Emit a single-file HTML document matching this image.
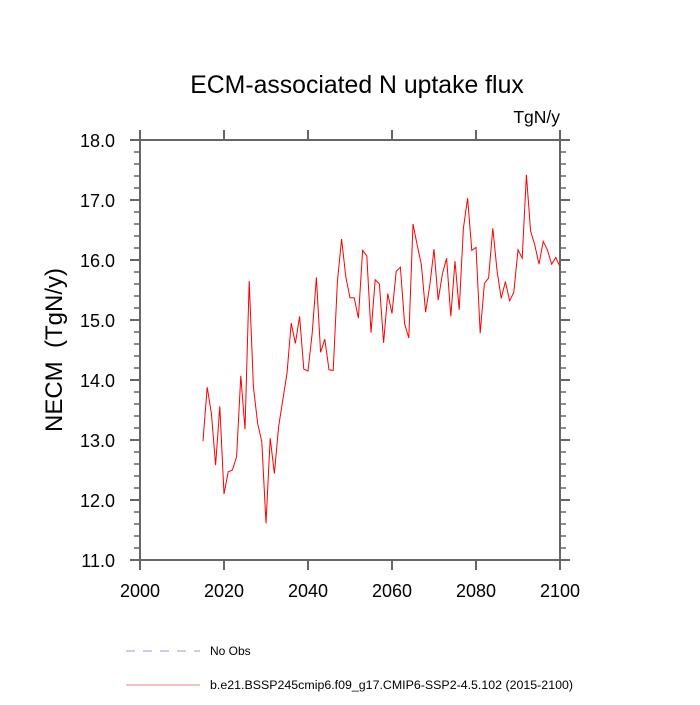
<!DOCTYPE html>
<html><head><meta charset="utf-8"><style>
html,body{margin:0;padding:0;background:#fff;}
svg text{font-family:"Liberation Sans",sans-serif;}
</style></head><body>
<svg id="chart" width="700" height="700" xmlns="http://www.w3.org/2000/svg">
<text x="357" y="93" font-size="24.8" text-anchor="middle" fill="#000">ECM-associated N uptake flux</text>
<text x="560" y="123" font-size="17.5" text-anchor="end" fill="#000">TgN/y</text>
<text transform="translate(62,350) rotate(-90)" font-size="24" text-anchor="middle" fill="#000" style="white-space:pre">NECM  (TgN/y)</text>
<g id="axes"></g>
<g id="series"></g>
<g>
<line x1="126" y1="651" x2="200" y2="651" stroke="#9999cc" stroke-width="1" stroke-dasharray="9,8"/>
<text x="210" y="655" font-size="12" fill="#000">No Obs</text>
<line x1="126" y1="685" x2="200" y2="685" stroke="#f08080" stroke-width="1"/>
<text x="210" y="689" font-size="12.4" fill="#000">b.e21.BSSP245cmip6.f09_g17.CMIP6-SSP2-4.5.102 (2015-2100)</text>
</g>
</svg>
<script>
const startYear = 2015;
const values = [12.98,13.88,13.44,12.58,13.56,12.10,12.47,12.50,12.72,14.07,13.18,15.65,13.89,13.28,12.97,11.61,13.03,12.44,13.22,13.67,14.11,14.95,14.61,15.06,14.18,14.15,14.78,15.71,14.46,14.68,14.17,14.16,15.64,16.35,15.72,15.37,15.37,15.03,16.16,16.07,14.79,15.67,15.60,14.62,15.44,15.11,15.81,15.88,14.94,14.70,16.60,16.25,15.92,15.13,15.58,16.18,15.33,15.77,16.03,15.06,15.98,15.17,16.53,17.03,16.16,16.21,14.78,15.61,15.70,16.53,15.83,15.36,15.64,15.32,15.46,16.17,16.03,17.42,16.48,16.25,15.93,16.31,16.17,15.93,16.04,15.89];
const xTicks = [2000,2020,2040,2060,2080,2100];
const yTicks = [11.0,12.0,13.0,14.0,15.0,16.0,17.0,18.0];
const L=140,R=560,T=140,B=560;
function xs(v){return L+(v-2000)/100*(R-L);}
function ys(v){return B-(v-11)/7*(B-T);}
const NS="http://www.w3.org/2000/svg";
const ax=document.getElementById('axes');
function mk(tag,attrs,parent){const e=document.createElementNS(NS,tag);for(const k in attrs)e.setAttribute(k,attrs[k]);parent.appendChild(e);return e;}
const col="#666";
const frame=mk('rect',{x:L,y:T,width:R-L,height:B-T,fill:'none',stroke:col,'stroke-width':2},ax);


xTicks.forEach(t=>{
  const x=xs(t);
  const a=mk('line',{x1:x,y1:B,x2:x,y2:B+10,stroke:col,'stroke-width':2},ax);
  
  
  const b=mk('line',{x1:x,y1:T,x2:x,y2:T-10,stroke:col,'stroke-width':2},ax);
  
  
  const tx=mk('text',{x:x,y:597,'font-size':18,'text-anchor':'middle',fill:'#000'},ax);
  tx.textContent=t;
  
  
});
for(let v=11;v<=18.001;v+=0.2){
  const y=ys(v);
  const major=Math.abs(v-Math.round(v))<0.01;
  const len=major?10:6;
  const a=mk('line',{x1:L,y1:y,x2:L-len,y2:y,stroke:col,'stroke-width':major?2:1.5},ax);
  
  
  const b=mk('line',{x1:R,y1:y,x2:R+len,y2:y,stroke:col,'stroke-width':major?2:1.5},ax);
  
  
}
yTicks.forEach(t=>{
  const tx=mk('text',{x:115,y:ys(t)+7,'font-size':18,'text-anchor':'end',fill:'#000'},ax);
  tx.textContent=t.toFixed(1);
  
  
});
const pts=values.map((v,i)=>xs(startYear+i).toFixed(1)+','+ys(v).toFixed(1)).join(' ');
const line=mk('polyline',{points:pts,fill:'none',stroke:'#ff0000','stroke-width':1},document.getElementById('series'));


</script>
</body></html>
